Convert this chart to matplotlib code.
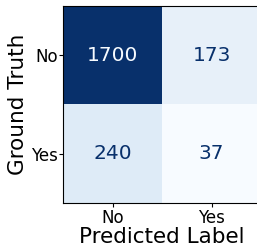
import numpy as np
import matplotlib
matplotlib.use("Agg")
import matplotlib.pyplot as plt

labels = ["No", "Yes"]
counts = np.array([[1700, 173],
                   [240, 37]])

fig = plt.figure(figsize=(2.57, 2.47), dpi=100)
ax = fig.add_axes([0.245, 0.178, 0.771, 0.798])

cmap = plt.get_cmap("Blues")
ax.imshow(counts, cmap=cmap, interpolation="nearest", aspect="auto")

thresh = (counts.max() + counts.min()) / 2.0
for i in range(counts.shape[0]):
    for j in range(counts.shape[1]):
        color = cmap(0) if counts[i, j] > thresh else cmap(1.0)
        ax.text(j, i, f"{counts[i, j]}", ha="center", va="center",
                color=color, fontsize=14.5)

ax.set_xticks(range(len(labels)))
ax.set_yticks(range(len(labels)))
ax.set_xticklabels(labels, fontsize=12)
ax.set_yticklabels(labels, fontsize=12)
ax.tick_params(axis="y", length=3, pad=0.5)
ax.tick_params(axis="x", length=3, pad=1.5)
ax.set_xlabel("Predicted Label", fontsize=15.5, labelpad=0)
ax.set_ylabel("Ground Truth", fontsize=15.5, labelpad=2)

fig.savefig("out.png", dpi=100)
